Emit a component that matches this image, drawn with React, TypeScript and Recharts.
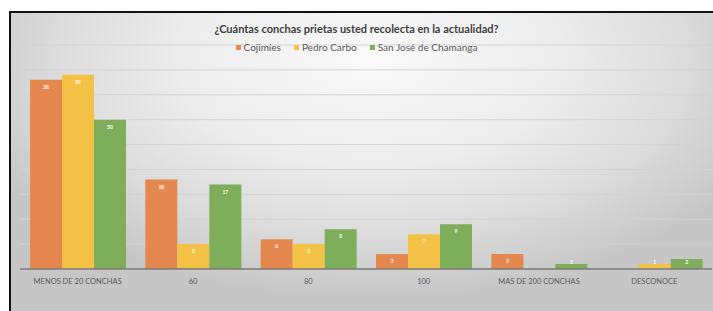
import React from "react";
import {
  BarChart,
  Bar,
  XAxis,
  YAxis,
  CartesianGrid,
  LabelList,
} from "recharts";

const CATEGORIES = [
  "MENOS DE 20 CONCHAS",
  "60",
  "80",
  "100",
  "MAS DE 200 CONCHAS",
  "DESCONOCE",
];
const COJIMIES = [38, 18, 6, 3, 3, 0];
const PEDRO_CARBO = [39, 5, 5, 7, 0, 1];
const SAN_JOSE = [30, 17, 8, 9, 1, 2];
const Y_TICKS = [0, 5, 10, 15, 20, 25, 30, 35, 40, 45];

const SERIES = [
  { key: "cojimies", name: "Cojimíes", color: "#E4884F" },
  { key: "pedro", name: "Pedro Carbo", color: "#F3C145" },
  { key: "sanjose", name: "San José de Chamanga", color: "#7FAE5A" },
];

const data = CATEGORIES.map((c, i) => ({
  cat: c,
  cojimies: COJIMIES[i],
  pedro: PEDRO_CARBO[i],
  sanjose: SAN_JOSE[i],
}));

const FONT = "Lato, 'Open Sans', sans-serif";

// small white value labels, pushed up a bit when the bar is too short
const renderValue = (props: any) => {
  const { x, y, width, value } = props;
  const ty = Math.min(Number(y) + 8, 263);
  return (
    <text
      x={Number(x) + Number(width) / 2}
      y={ty}
      fill="#ffffff"
      fontSize={5}
      fontWeight={700}
      fontFamily={FONT}
      textAnchor="middle"
      dominantBaseline="middle"
    >
      {value}
    </text>
  );
};

export default function App() {
  return (
    <div
      style={{
        position: "fixed",
        left: 0,
        top: 0,
        width: 713,
        height: 311,
        background: "#ffffff",
        overflow: "hidden",
      }}
    >
      <div
        style={{
          position: "absolute",
          left: 9,
          top: 11,
          width: 720,
          height: 320,
          borderTop: "2px solid #111",
          borderLeft: "2px solid #111",
          boxSizing: "border-box",
          background:
            "radial-gradient(ellipse 60% 75% at 50% 15%, #fafafa 0%, #ececec 45%, #dadada 75%, #c6c6c6 100%)",
        }}
      />
      <div style={{ position: "absolute", left: 0, top: 0 }}>
        <BarChart
          width={713}
          height={311}
          data={data}
          margin={{ top: 45, right: 1, bottom: 22, left: 20 }}
          barCategoryGap={10}
          barGap={0}
        >
          <CartesianGrid stroke="#d3d3d3" vertical={false} />
          <XAxis
            dataKey="cat"
            interval={0}
            height={20}
            tickLine={false}
            axisLine={{ stroke: "#7a7a7a", strokeWidth: 1.5 }}
            tick={{ fill: "#595959", fontSize: 7.5, fontFamily: FONT }}
            tickMargin={4}
          />
          <YAxis hide domain={[0, 45]} ticks={Y_TICKS} />
          {SERIES.map((s) => (
            <Bar
              key={s.key}
              dataKey={s.key}
              name={s.name}
              fill={s.color}
              isAnimationActive={false}
            >
              <LabelList dataKey={s.key} content={renderValue} />
            </Bar>
          ))}
        </BarChart>
      </div>
      <div
        style={{
          position: "absolute",
          left: 0,
          top: 22,
          width: 713,
          textAlign: "center",
          fontFamily: FONT,
          fontWeight: 700,
          fontSize: 11,
          color: "#404040",
        }}
      >
        ¿Cuántas conchas prietas usted recolecta en la actualidad?
      </div>
      <div
        style={{
          position: "absolute",
          left: 0,
          top: 41,
          width: 713,
          display: "flex",
          justifyContent: "center",
          gap: 13,
          fontFamily: FONT,
          fontSize: 10,
          color: "#595959",
        }}
      >
        {SERIES.map((s) => (
          <span key={s.key} style={{ display: "flex", alignItems: "center" }}>
            <span
              style={{
                width: 5,
                height: 5,
                background: s.color,
                display: "inline-block",
                marginRight: 3,
              }}
            />
            {s.name}
          </span>
        ))}
      </div>
    </div>
  );
}
